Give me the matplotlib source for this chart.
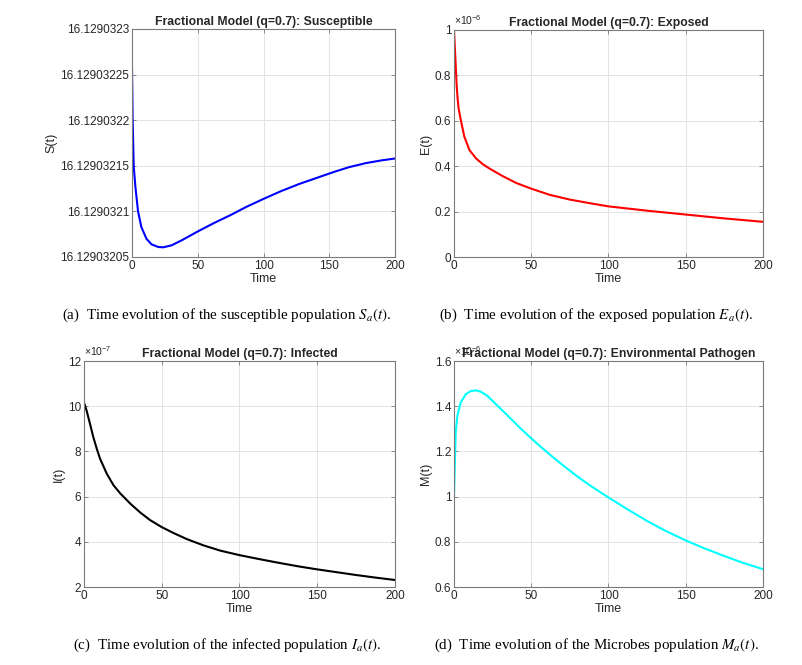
import numpy as np
import matplotlib
matplotlib.use("Agg")
import matplotlib.pyplot as plt
from matplotlib.ticker import FuncFormatter, FixedLocator

plt.rcParams['font.family'] = ['Liberation Sans', 'DejaVu Sans']
plt.rcParams['mathtext.fontset'] = 'stix'

# ---- values ----
t_S = [0, 0.5, 1.3, 2.6, 4.6, 7.1, 11, 14.8, 19.9, 23.7, 30.1, 37.8, 50, 62, 75,
       87, 100, 113, 127, 140, 153, 165, 178, 190, 200]
S = [16.1290322574, 16.1290321997, 16.1290321497, 16.1290321267, 16.1290321000,
     16.1290320829, 16.1290320700, 16.1290320639, 16.1290320610, 16.1290320606,
     16.1290320628, 16.1290320683, 16.1290320780, 16.1290320870, 16.1290320960,
     16.1290321050, 16.1290321137, 16.1290321220, 16.1290321300, 16.1290321365,
     16.1290321430, 16.1290321485, 16.1290321530, 16.1290321560, 16.1290321580]

t_E = [0, 0.9, 1.7, 2.4, 3.0, 4.5, 6.7, 10, 14.3, 18.6, 22.9, 31.6, 40.3, 50,
       61.9, 74.9, 87.9, 100, 125, 150, 175, 200]
E = np.array([1.0, 0.874, 0.757, 0.693, 0.654, 0.6, 0.53, 0.471, 0.434, 0.409,
              0.39, 0.356, 0.326, 0.301, 0.274, 0.253, 0.237, 0.223, 0.204,
              0.187, 0.170, 0.155]) * 1e-6

t_I = [0, 0.2, 1.7, 3.9, 6, 8.2, 10.3, 14.6, 18.9, 23.2, 29.6, 36.1, 42.5, 50,
       57.5, 66.1, 76.9, 87.6, 100, 113, 126, 139, 150, 162, 175, 187, 200]
I = np.array([10.15, 10.12, 9.80, 9.21, 8.63, 8.12, 7.68, 7.02, 6.51, 6.15, 5.70,
              5.30, 4.96, 4.65, 4.39, 4.12, 3.84, 3.61, 3.41, 3.23, 3.06, 2.90,
              2.78, 2.66, 2.53, 2.42, 2.31]) * 1e-7

t_M = [0, 0.43, 1.1, 2.2, 4.3, 7.6, 10.9, 14.1, 17.4, 21.7, 28.3, 34.8, 43.5, 50,
       56.5, 65.2, 71.7, 79.3, 87, 100, 112, 125, 137, 150, 162, 175, 187, 200]
M = np.array([1.0, 1.108, 1.285, 1.358, 1.416, 1.453, 1.467, 1.470, 1.464, 1.445,
              1.401, 1.358, 1.299, 1.258, 1.218, 1.168, 1.132, 1.092, 1.054, 0.996,
              0.945, 0.892, 0.848, 0.806, 0.771, 0.737, 0.707, 0.679]) * 1e-6

xticks = [0, 50, 100, 150, 200]
S_ticks = [16.12903205, 16.1290321, 16.12903215, 16.1290322, 16.12903225, 16.1290323]
E_ticks = [0, 0.2e-6, 0.4e-6, 0.6e-6, 0.8e-6, 1.0e-6]
I_ticks = [2e-7, 4e-7, 6e-7, 8e-7, 10e-7, 12e-7]
M_ticks = [0.6e-6, 0.8e-6, 1.0e-6, 1.2e-6, 1.4e-6, 1.6e-6]

fig = plt.figure(figsize=(8.03, 6.65), dpi=100)

def W(x):
    return x / 803.0

def H(y):
    return 1 - y / 665.0

def panel(box, t, y, color, yticks, ylabel, title, scale=None, exp_txt=None):
    l, r, top, bot = box
    ax = fig.add_axes([W(l), H(bot), W(r - l), H(top) - H(bot)])
    ax.plot(t, y, color=color, lw=1.5)
    ax.set_xlim(0, 200)
    ax.set_ylim(yticks[0], yticks[-1])
    ax.xaxis.set_major_locator(FixedLocator(xticks))
    ax.yaxis.set_major_locator(FixedLocator(yticks))
    if scale is None:
        fmt = lambda v, p: ('%.8f' % v).rstrip('0').rstrip('.')
    else:
        fmt = lambda v, p: '%g' % round(v / scale, 6)
    ax.yaxis.set_major_formatter(FuncFormatter(fmt))
    ax.grid(True, color='#e3e3e3', lw=0.7)
    ax.set_axisbelow(True)
    for s in ax.spines.values():
        s.set_color('#7a7a7a')
        s.set_linewidth(0.8)
    ax.tick_params(direction='in', length=3, width=0.6, colors='#7a7a7a',
                   labelcolor='#262626', labelsize=8.5, top=True, right=True, pad=2)
    ax.set_xlabel('Time', fontsize=9, color='#262626', labelpad=1)
    ax.set_ylabel(ylabel, fontsize=9, color='#262626', labelpad=2)
    ax.set_title(title, fontsize=8.8, fontweight='bold', color='#262626', pad=3)
    if exp_txt is not None:
        ax.text(0.0, 1.012, exp_txt, transform=ax.transAxes, fontsize=7.5,
                color='#262626', ha='left', va='bottom')
    return ax

panel((132, 395, 29, 257), t_S, S, '#0000ff', S_ticks, 'S(t)',
      'Fractional Model (q=0.7): Susceptible')
panel((454, 763, 30, 257), t_E, E, '#ff0000', E_ticks, 'E(t)',
      'Fractional Model (q=0.7): Exposed', 1e-6, r'$\mathregular{\times10^{-6}}$')
panel((84, 395, 361, 587), t_I, I, '#000000', I_ticks, 'I(t)',
      'Fractional Model (q=0.7): Infected', 1e-7, r'$\mathregular{\times10^{-7}}$')
panel((454, 763, 361, 587), t_M, M, '#00ffff', M_ticks, 'M(t)',
      'Fractional Model (q=0.7): Environmental Pathogen', 1e-6,
      r'$\mathregular{\times10^{-6}}$')

cap = dict(fontsize=10.8, family=['Liberation Serif', 'DejaVu Serif'],
           ha='center', va='center', color='black')
fig.text(W(226), H(315), r'(a)  Time evolution of the susceptible population $S_a(t)$.', **cap)
fig.text(W(596), H(315), r'(b)  Time evolution of the exposed population $E_a(t)$.', **cap)
fig.text(W(227), H(645), r'(c)  Time evolution of the infected population $I_a(t)$.', **cap)
fig.text(W(596), H(645), r'(d)  Time evolution of the Microbes population $M_a(t)$.', **cap)

fig.savefig('out.png', dpi=100)
